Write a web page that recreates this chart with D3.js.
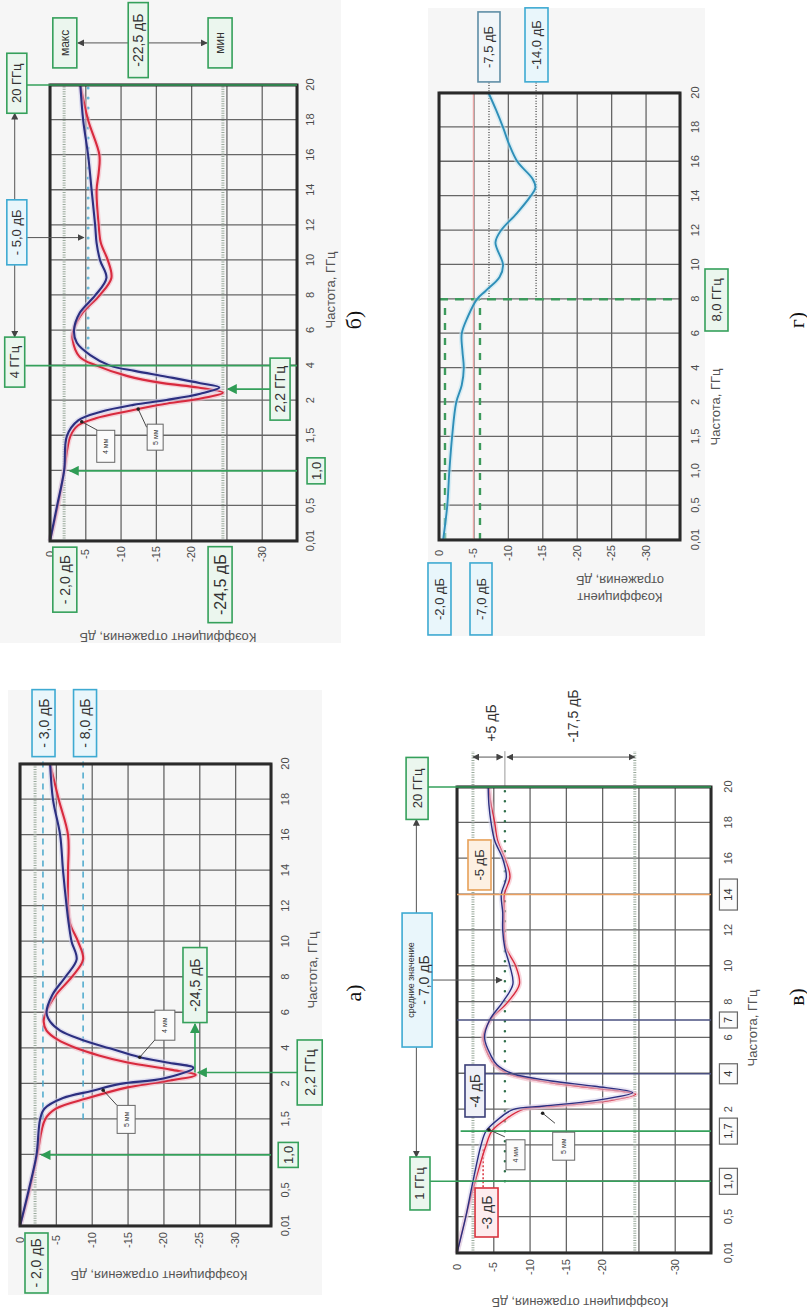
<!DOCTYPE html>
<meta charset="utf-8">
<style>
  body { margin: 0; background: #fff; }
  svg text { font-family: "Liberation Sans", Arial, sans-serif; }
  .axis .tick line { stroke: #666; stroke-width: 1.3px; }
  .axis .tick text { font-size: 11px; fill: #4a4a4a; }
  .frame { fill: none; stroke: #2a2a2a; stroke-width: 3px; }
  .title { font-size: 13px; fill: #555; }
  .plabel { font-family: "Liberation Serif", "DejaVu Serif", serif; font-size: 22px; fill: #111; }
</style>
<svg width="807" height="1311"></svg>
<script src="https://cdn.jsdelivr.net/npm/d3@7"></script>
<script>
  // shared axes
  const freqTicks = [0.01, 0.5, 1, 1.5, 2, 4, 6, 8, 10, 12, 14, 16, 18, 20];
  const freqLabels = ["0,01", "0,5", "1,0", "1,5", "2", "4", "6", "8", "10", "12", "14", "16", "18", "20"];
  const dbTicks = [0, -5, -10, -15, -20, -25, -30, -35];

  // а) two samples, 4 mm (navy) and 5 mm (red)
  const aNavyF = [0.01, 0.5, 1, 1.5, 1.65, 1.8, 1.9, 2.0, 2.3, 2.9, 3.2, 3.5, 4.0, 4.5, 5.0, 5.5, 6, 7, 8, 9, 10, 11, 12, 14, 16, 18, 20];
  const aNavyDb = [0, -1.2, -2.3, -2.8, -3.4, -6, -10, -14, -20, -24.2, -20.5, -16.7, -12.5, -8.5, -5.6, -4.2, -3.7, -4.5, -6.3, -7.9, -7.2, -6.8, -6.5, -6.0, -5.6, -4.6, -4.2];
  const aRedF = [0.01, 0.5, 1, 1.5, 1.65, 1.8, 1.95, 2.1, 2.5, 2.8, 3.2, 3.6, 4.0, 4.5, 5.0, 5.5, 6, 7, 8, 9, 10, 11, 12, 14, 16, 18, 20];
  const aRedDb = [0, -1.3, -2.4, -3.5, -5, -9.5, -15, -19.5, -24.5, -21, -15, -11, -7.9, -5.2, -3.7, -3.3, -3.6, -5.0, -7.2, -8.8, -8.1, -7.0, -6.7, -6.7, -6.7, -5.4, -4.2];
  const aRefDb = [-2.1];
  const aDashDb = [-3.2, -8.8];

  // б)
  const bNavyF = [0.01, 0.5, 1, 1.5, 1.72, 1.84, 1.94, 2.04, 2.4, 2.75, 3.0, 3.37, 3.7, 4.0, 4.6, 5.3, 6, 7, 8, 9, 10, 11, 12, 14, 16, 18, 20];
  const bNavyDb = [0, -1.0, -2.0, -2.4, -4.0, -7.1, -11.8, -16.5, -21.3, -24.0, -21.3, -16.5, -12, -8.5, -5.7, -3.8, -3.4, -4.2, -6.4, -8.0, -7.1, -6.6, -6.4, -5.9, -5.4, -4.7, -4.3];
  const bRedF = [0.01, 0.5, 1, 1.5, 1.65, 1.75, 1.85, 1.95, 2.1, 2.45, 2.75, 3.0, 3.4, 4.0, 4.5, 5.5, 6, 7, 8, 9, 10, 11, 12, 14, 15, 16, 18, 20];
  const bRedDb = [0, -1.1, -2.0, -2.9, -4.0, -6.5, -11, -16, -21, -24.5, -21, -16, -11, -6.6, -4.2, -3.2, -3.3, -4.6, -7.0, -8.7, -8.2, -7.2, -6.9, -6.6, -6.9, -7.0, -5.4, -4.3];
  const bRefDb = [-2, -24.5];
  const bMeanDb = -5.4;

  // в)
  const vNavyF = [0.01, 0.5, 1, 1.5, 1.7, 1.85, 2.0, 2.2, 2.5, 2.95, 3.3, 3.6, 4.0, 4.5, 5, 6, 7, 8, 9, 10, 11, 12, 13, 14, 15, 16, 17, 18, 19, 20];
  const vNavyDb = [0, -1.2, -2.2, -3.3, -4.0, -5.5, -7.7, -12, -19, -24.2, -19, -13, -7.7, -5.5, -4.7, -3.8, -4.5, -6.3, -7.7, -7.3, -6.6, -6.3, -6.3, -6.1, -6.8, -6.3, -5.2, -4.7, -4.4, -4.3];
  const vRedF = [0.01, 0.5, 1, 1.5, 1.7, 1.85, 2.0, 2.2, 2.5, 2.85, 3.2, 3.5, 4.0, 4.5, 5, 6, 7, 8, 9, 10, 11, 12, 13, 14, 15, 16, 17, 18, 19, 20];
  const vRedDb = [0, -1.2, -2.5, -4.0, -4.8, -6.5, -9, -14, -21, -24.6, -19, -13, -7.0, -5.2, -4.4, -3.6, -4.6, -7.0, -8.6, -8.1, -6.8, -6.5, -6.5, -6.5, -7.3, -6.6, -5.6, -5.2, -4.7, -4.4];
  const vRefDb = [-2.2, -24.5];
  const vMeanDb = -6.6;

  // г) single sample
  const gF = [0.01, 0.5, 1, 1.5, 2, 3, 4, 5, 6, 7, 8, 8.5, 9.3, 10, 11.3, 12, 13, 14, 14.5, 15, 16, 17, 18, 19, 20];
  const gDb = [-0.6, -1.2, -1.5, -1.9, -2.5, -3.3, -3.6, -3.4, -3.3, -4.2, -5.5, -6.8, -8.8, -9.3, -8.2, -9.0, -11.3, -13.3, -14.0, -13.6, -11.4, -10.2, -9.3, -8.3, -7.2];
  const gDashDb = [-0.87, -5.95];
  const gDotDb = [-7.26, -14.1];

  const GREEN = { stroke: "#35a05b", fill: "#ebf6ee" };
  const BLUE = { stroke: "#3eaad2", fill: "#e9f6fb" };
  const SLATE = { stroke: "#5f8ea6", fill: "#f1f6f9" };
  const GREY = { stroke: "#666", fill: "#fbfbfb" };
  const RED = { stroke: "#d9343f", fill: "#fdecee" };
  const NAVY = { stroke: "#3b3f78", fill: "#eff0f7" };
  const ORANGE = { stroke: "#e7a15a", fill: "#fdf0e2" };
  const NAVY_C = "#2c2f80", RED_C = "#d82a3e";

  const svg = d3.select("svg");
  const defs = svg.append("defs");
  function marker(id, color, size) {
    defs.append("marker").attr("id", id).attr("viewBox", "0 0 10 10")
      .attr("refX", 9).attr("refY", 5).attr("markerWidth", size).attr("markerHeight", size)
      .attr("markerUnits", "userSpaceOnUse").attr("orient", "auto-start-reverse")
      .append("path").attr("d", "M0,0L10,5L0,10z").attr("fill", color);
  }
  marker("ag", "#2f9c55", 10);
  marker("ak", "#444", 7);

  // light panel backgrounds
  [[0, 0, 341, 643], [428, 8, 277, 628], [8, 690, 314, 605]].forEach(r =>
    svg.append("rect").attr("x", r[0]).attr("y", r[1]).attr("width", r[2]).attr("height", r[3]).attr("fill", "#f6f6f6"));

  // each chart is drawn upright in its own group, then turned by -90°
  function panel(frame, o) {
    const [left, right, top, bottom] = frame;
    const W = bottom - top, H = right - left;
    const g = svg.append("g").attr("transform", `translate(${left},${bottom}) rotate(-90)`);
    const x = d3.scaleLinear().domain(freqTicks)
      .range(freqTicks.map((d, i) => i * W / (freqTicks.length - 1)));
    const y = d3.scaleLinear().domain([0, -35]).range([0, H]);

    const gx = g.append("g").attr("class", "axis").attr("transform", `translate(0,${H})`)
      .call(d3.axisBottom(x).tickValues(freqTicks).tickFormat((d, i) => freqLabels[i])
        .tickSizeInner(-H).tickSizeOuter(0));
    gx.selectAll(".tick text").attr("y", o.fy).attr("dy", "0.35em");
    gx.selectAll(".tick text").filter(d => (o.hideF || []).includes(d)).remove();

    const gy = g.append("g").attr("class", "axis")
      .call(d3.axisLeft(y).tickValues(dbTicks).tickFormat(d => d === -35 ? "" : String(d))
        .tickSizeInner(-W).tickSizeOuter(0));
    gy.selectAll(".tick text").attr("x", -o.dy).attr("text-anchor", "middle");
    gy.selectAll(".tick text").filter(d => (o.hideD || []).includes(d)).remove();
    g.selectAll(".domain").remove();
    return { g, x, y, W, H };
  }

  function frameRect(p) {
    p.g.append("rect").attr("class", "frame").attr("width", p.W).attr("height", p.H);
  }

  function seg(p, x1, y1, x2, y2, st) {
    const l = p.g.append("line").attr("x1", x1).attr("y1", y1).attr("x2", x2).attr("y2", y2)
      .attr("stroke", st.c).attr("stroke-width", st.w || 1);
    if (st.dash) l.attr("stroke-dasharray", st.dash);
    if (st.cap) l.attr("stroke-linecap", st.cap);
    if (st.end) l.attr("marker-end", `url(#${st.end})`);
    if (st.start) l.attr("marker-start", `url(#${st.start})`);
    return l;
  }
  const hl = (p, db, f1, f2, st) => seg(p, p.x(f1), p.y(db), p.x(f2), p.y(db), st);
  const vl = (p, f, d1, d2, st) => seg(p, p.x(f), p.y(d1), p.x(f), p.y(d2), st);

  function curve(p, fs, dbs, color, halo, w) {
    const line = d3.line().x(d => p.x(d[0])).y(d => p.y(d[1])).curve(d3.curveCatmullRom.alpha(0.5));
    const pts = fs.map((f, i) => [f, dbs[i]]);
    if (halo) p.g.append("path").attr("d", line(pts)).attr("fill", "none")
      .attr("stroke", halo).attr("stroke-width", 5).attr("opacity", 0.55);
    p.g.append("path").attr("d", line(pts)).attr("fill", "none")
      .attr("stroke", color).attr("stroke-width", w || 2.1);
  }

  function box(p, f, db, txt, o) {
    const b = p.g.append("g").attr("transform", `translate(${p.x(f)},${p.y(db)})`);
    b.append("rect").attr("x", -o.w / 2).attr("y", -o.h / 2).attr("width", o.w).attr("height", o.h)
      .attr("fill", o.c.fill).attr("stroke", o.c.stroke).attr("stroke-width", o.sw || 1.6);
    const lines = txt.split("\n");
    const sizes = Array.isArray(o.fs) ? o.fs : lines.map(() => o.fs);
    const lh = o.lh || sizes[0] * 1.15;
    lines.forEach((t, i) => b.append("text").attr("text-anchor", "middle")
      .attr("dominant-baseline", "central").attr("y", (i - (lines.length - 1) / 2) * lh)
      .attr("font-size", sizes[i]).attr("fill", "#333").text(t));
  }

  function pointer(p, f1, d1, f2, d2) {
    seg(p, p.x(f1), p.y(d1), p.x(f2), p.y(d2), { c: "#333", w: 0.9 });
    p.g.append("circle").attr("cx", p.x(f2)).attr("cy", p.y(d2)).attr("r", 1.8).attr("fill", "#222");
  }

  function note(p, f, db, txt, fs) {
    p.g.append("text").attr("x", p.x(f)).attr("y", p.y(db)).attr("text-anchor", "middle")
      .attr("dominant-baseline", "central").attr("font-size", fs).attr("fill", "#333").text(txt);
  }

  function titles(p, xt, yt, lbl, yLines) {
    p.g.append("text").attr("class", "title").attr("x", xt[0]).attr("y", xt[1])
      .attr("text-anchor", "middle").attr("dominant-baseline", "central").text("Частота, ГГц");
    (yLines || ["Коэффициент отражения, дБ"]).forEach((t, i) =>
      p.g.append("text").attr("class", "title").attr("text-anchor", "middle")
        .attr("dominant-baseline", "central")
        .attr("transform", `translate(${yt[0] + i * 17},${yt[1]}) rotate(-90)`).text(t));
    p.g.append("text").attr("class", "plabel").attr("x", lbl[1]).attr("y", lbl[2])
      .attr("text-anchor", "middle").attr("dominant-baseline", "central").text(lbl[0]);
  }

  const sHatch = { c: "#9aaa9c", w: 3, dash: "1,1.4" };
  const sGreen = { c: "#35a05b", w: 1.6 };
  const sGreenArrow = { c: "#35a05b", w: 1.6, end: "ag" };
  const sDim = { c: "#555", w: 1 };

  // ---------- б) ----------
  const pb = panel([50, 297, 85, 541], { fy: 13, dy: 13, hideF: [1], hideD: [-25] });
  bRefDb.forEach(d => hl(pb, d, 0.01, 20, sHatch));
  hl(pb, bMeanDb, 5, 20, { c: "#6ab8d8", w: 3, dash: "0,10", cap: "round" });
  curve(pb, bRedF, bRedDb, RED_C, "#f3b3c0");
  curve(pb, bNavyF, bNavyDb, NAVY_C, "#cacaea");
  frameRect(pb);
  vl(pb, 4, 3.5, -35, sGreen);
  vl(pb, 20, 3.3, -35, sGreen);
  seg(pb, pb.x(11.6) + 32.5, pb.y(5), pb.x(20.1) - 30, pb.y(5), { ...sDim, end: "ak" });
  seg(pb, pb.x(11.6) - 32.5, pb.y(5), pb.x(4.2) + 25, pb.y(5), { ...sDim, end: "ak" });
  seg(pb, pb.x(11.3), pb.y(4.7) + 10, pb.x(11.3), pb.y(-4.8), { ...sDim, end: "ak" });
  seg(pb, pb.x(22.4), pb.y(-2.1) + 13, pb.x(22.4), pb.y(-24.1) - 13, { ...sDim, start: "ak", end: "ak" });
  vl(pb, 1.0, -35, -2.8, sGreenArrow);
  seg(pb, pb.x(2.66), pb.y(-32.6) - 10, pb.x(2.66), pb.y(-25.2), sGreenArrow);
  pointer(pb, 1.58, -6.7, 1.70, -4.5);
  pointer(pb, 1.62, -13.7, 1.88, -12.5);
  box(pb, 20.1, 4.7, "20 ГГц", { w: 60, h: 20, fs: 13, c: GREEN });
  box(pb, 11.6, 4.7, "- 5,0 дБ", { w: 65, h: 20, fs: 13, c: BLUE });
  box(pb, 4.2, 5.0, "4 ГГц", { w: 50, h: 20, fs: 13, c: GREEN });
  box(pb, 22.4, -2.1, "макс", { w: 50, h: 24, fs: 12, c: GREEN });
  box(pb, 22.56, -12.5, "-22,5 дБ", { w: 75, h: 20, fs: 14, c: GREEN });
  box(pb, 22.4, -24.1, "мин", { w: 50, h: 24, fs: 12, c: GREEN });
  box(pb, -0.53, -2.1, "- 2,0 дБ", { w: 65, h: 24, fs: 14, c: GREEN });
  box(pb, -0.6, -24.1, "-24,5 дБ", { w: 76, h: 24, fs: 16, c: GREEN });
  box(pb, 2.66, -32.6, "2,2 ГГц", { w: 62, h: 20, fs: 14, c: GREEN });
  box(pb, 1.0, -37.7, "1,0", { w: 26, h: 18, fs: 13, c: GREEN });
  box(pb, 1.35, -7.9, "4 мм", { w: 32, h: 18, fs: 7, c: GREY, sw: 1 });
  box(pb, 1.48, -14.9, "5 мм", { w: 26, h: 16, fs: 7, c: GREY, sw: 1 });
  titles(pb, [251, 280], [-96, 118], ["б)", 221, 303]);

  // ---------- а) ----------
  const pa = panel([20, 271, 764, 1226], { fy: 14, dy: 14, hideF: [1] });
  aRefDb.forEach(d => hl(pa, d, 0.01, 20, sHatch));
  aDashDb.forEach(d => hl(pa, d, 1.5, 20.8, { c: "#4aa8cc", w: 1.5, dash: "6,5" }));
  curve(pa, aRedF, aRedDb, RED_C, "#f3b3c0");
  curve(pa, aNavyF, aNavyDb, NAVY_C, "#cacaea");
  frameRect(pa);
  vl(pa, 1.0, -35, -3.0, sGreenArrow);
  seg(pa, pa.x(2.64), pa.y(-40.4) - 12.5, pa.x(2.64), pa.y(-24.8), sGreenArrow);
  seg(pa, pa.x(2.64), pa.y(-24.4), pa.x(7.56) - 39, pa.y(-24.4), sGreenArrow);
  pointer(pa, 4.47, -18.8, 3.5, -16.7);
  pointer(pa, 1.7, -13.5, 1.91, -11.6);
  box(pa, 22.3, -3.28, "- 3,0 дБ", { w: 67, h: 23, fs: 14, c: BLUE });
  box(pa, 22.3, -9.07, "- 8,0 дБ", { w: 67, h: 23, fs: 14, c: BLUE });
  box(pa, -0.5, -2.3, "- 2,0 дБ", { w: 60, h: 23, fs: 14, c: GREEN });
  box(pa, 1.0, -37.4, "1,0", { w: 25, h: 20, fs: 13, c: GREEN });
  box(pa, 2.64, -40.4, "2,2 ГГц", { w: 65, h: 25, fs: 14, c: GREEN });
  box(pa, 7.56, -24.4, "-24,5 дБ", { w: 75, h: 24, fs: 14, c: GREEN });
  box(pa, 5.3, -20.2, "4 мм", { w: 30, h: 20, fs: 7, c: GREY, sw: 1 });
  box(pa, 1.5, -14.8, "5 мм", { w: 28, h: 18, fs: 7, c: GREY, sw: 1 });
  titles(pa, [256, 292], [-49, 139], ["а)", 233, 333]);

  // ---------- г) ----------
  const pg = panel([439, 680, 93, 540], { fy: 15, dy: 13 });
  hl(pg, -5, 0.01, 20, { c: "#eaa6a6", w: 1.3 });
  gDashDb.forEach(d => hl(pg, d, 0.01, 8, { c: "#3c9a5c", w: 2.4, dash: "7,8" }));
  gDotDb.forEach(d => hl(pg, d, 8, 20.8, { c: "#555", w: 1.4, dash: "1,1.6" }));
  vl(pg, 8, 0, -35, { c: "#3c9a5c", w: 2.4, dash: "9,7" });
  curve(pg, gF, gDb, "#2f8fb8", "#bfe3f0", 1.9);
  frameRect(pg);
  box(pg, 22.68, -7.26, "-7,5 дБ", { w: 70, h: 22, fs: 13, c: SLATE });
  box(pg, 22.8, -14.16, "-14,0 дБ", { w: 74, h: 23, fs: 13, c: BLUE });
  box(pg, 7.96, -40.3, "8,0 ГГц", { w: 62, h: 23, fs: 13, c: GREEN });
  box(pg, -0.83, -0.07, "-2,0 дБ", { w: 72, h: 23, fs: 13, c: BLUE });
  box(pg, -0.83, -6.1, "-7,0 дБ", { w: 72, h: 22, fs: 13, c: BLUE });
  titles(pg, [133, 276], [-57, 181], ["г)", 220, 357], ["Коэффициент", "отражения, дБ"]);

  // ---------- в) ----------
  const pv = panel([457, 711, 787, 1253], { fy: 17, dy: 14, hideF: [1, 1.5, 4, 14], hideD: [-25] });
  vRefDb.forEach(d => hl(pv, d, 0.01, 22, sHatch));
  hl(pv, vMeanDb, 20, 22, { c: "#999", w: 1 });
  hl(pv, vMeanDb, 1.0, 20, { c: "#2f6e4a", w: 2.5, dash: "0,10", cap: "round" });
  hl(pv, -3.6, 0.75, 1.45, { c: RED.stroke, w: 1.5, dash: "2,2" });
  curve(pv, vRedF, vRedDb, RED_C, "#f3b3c0", 1.4);
  curve(pv, vNavyF, vNavyDb, NAVY_C, "#d7d7ee", 1.4);
  frameRect(pv);
  vl(pv, 20, 4, -35, sGreen);
  vl(pv, 1.0, 3.7, -35, sGreen);
  vl(pv, 1.7, -0.5, -35, sGreen);
  vl(pv, 4, -3.8, -35, { c: "#4a5080", w: 1.5 });
  vl(pv, 7, 0, -35, { c: "#4a5080", w: 1.5 });
  vl(pv, 14, 0, -35, { c: "#eaa060", w: 1.6 });
  seg(pv, pv.x(21.67), pv.y(-2.2), pv.x(21.67), pv.y(-6.3), { ...sDim, start: "ak", end: "ak" });
  seg(pv, pv.x(21.67), pv.y(-6.9), pv.x(21.67), pv.y(-24.5), { ...sDim, start: "ak", end: "ak" });
  seg(pv, pv.x(19.92) - 31, pv.y(5.6), pv.x(9.23) + 67, pv.y(5.6), { ...sDim, start: "ak" });
  seg(pv, pv.x(9.23) - 67, pv.y(5.6), pv.x(0.97) + 26.5, pv.y(5.6), { ...sDim, end: "ak" });
  seg(pv, pv.x(9.23), pv.y(5.5) + 15, pv.x(9.23), pv.y(-6.2), { ...sDim, end: "ak" });
  pointer(pv, 1.62, -6.6, 1.72, -4.4);
  pointer(pv, 1.81, -13.5, 1.95, -11.8);
  box(pv, 19.92, 5.5, "20 ГГц", { w: 62, h: 22, fs: 13, c: GREEN });
  box(pv, 9.23, 5.5, "средние значение\n- 7,0 дБ", { w: 134, h: 30, fs: [9, 14], lh: 13, c: BLUE });
  box(pv, 0.97, 5.1, "1 ГГц", { w: 53, h: 20, fs: 13, c: GREEN });
  box(pv, 0.565, -4.07, "-3 дБ", { w: 49, h: 23, fs: 14, c: RED });
  box(pv, 3.04, -2.48, "-4 дБ", { w: 52, h: 20, fs: 14, c: NAVY });
  box(pv, 15.65, -3.1, "-5 дБ", { w: 50, h: 23, fs: 13, c: ORANGE });
  box(pv, 1.37, -8.06, "4 мм", { w: 30, h: 19, fs: 7, c: GREY, sw: 1 });
  box(pv, 1.49, -14.7, "5 мм", { w: 28, h: 22, fs: 7, c: GREY, sw: 1 });
  [[1, "1,0", 26], [1.7, "1,7", 26], [4, "4", 20], [7, "7", 16], [14, "14", 31]].forEach(t =>
    box(pv, t[0], -37.4, t[1], { w: t[2], h: 18, fs: 11, c: GREY, sw: 1.2 }));
  note(pv, 23.57, -4.68, "+5 дБ", 14);
  note(pv, 23.96, -15.98, "-17,5 дБ", 14);
  titles(pv, [225, 295], [-49, 123], ["в)", 256, 339]);
</script>
